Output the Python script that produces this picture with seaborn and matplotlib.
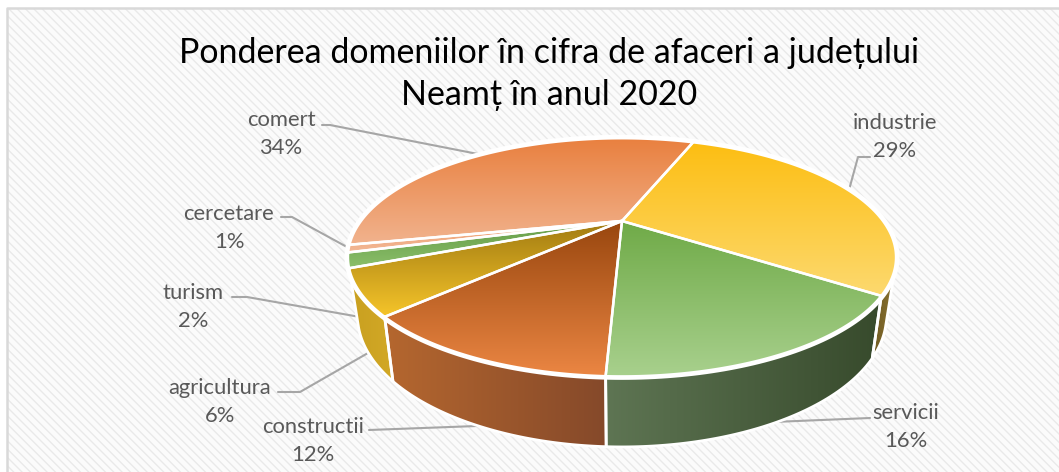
import matplotlib
matplotlib.use('Agg')
import matplotlib.pyplot as plt
from matplotlib.patches import Polygon, Rectangle
import numpy as np
import seaborn as sns

# Date
categories = ['industrie', 'servicii', 'constructii', 'agricultura', 'turism', 'cercetare', 'comert']
shares = [29, 16, 12, 6, 2, 1, 34]

title = 'Ponderea domeniilor în cifra de afaceri a județului\nNeamț în anul 2020'

# Culori (sus -> jos pe fata de sus, stanga -> dreapta pe perete)
top_colors = {
    'industrie': ('#FDBE12', '#FCD96F'),
    'servicii': ('#6FAA47', '#A8D08D'),
    'constructii': ('#98460E', '#EB8643'),
    'agricultura': ('#A17B12', '#F6C52A'),
    'turism': ('#639A46', '#8BBF6A'),
    'cercetare': ('#EE9C6B', '#F2B896'),
    'comert': ('#E9803F', '#F1B38E'),
}
wall_colors = {
    'industrie': ('#6E5A22', '#8A7230'),
    'servicii': ('#5E7553', '#374A2C'),
    'constructii': ('#B5672F', '#85492A'),
    'agricultura': ('#C9A020', '#D2A826'),
}

# Pozitia etichetelor si a liniilor de legatura (pixeli)
label_xy = {
    'industrie': (895, 137), 'servicii': (906, 427), 'constructii': (313, 441),
    'agricultura': (220, 402), 'turism': (193, 307), 'cercetare': (229, 228), 'comert': (281, 134),
}
leaders = {
    'industrie': [(870, 157), (858, 157), (849, 190)],
    'servicii': [(870, 418), (773, 422)],
    'constructii': [(369, 430), (477, 426)],
    'agricultura': [(278, 392), (300, 392), (368, 353)],
    'turism': [(232, 297), (247, 297), (360, 317)],
    'cercetare': [(281, 217), (292, 217), (347, 247)],
    'comert': [(322, 125), (330, 125), (483, 155)],
}

# Camera: perspectiva discului de sus si a celui de jos
CX, CY = 622, 221
A, B, K = 261, 108, 0.305
SX, SY, CY2 = 0.965, 1.10, 276
START = 20.5
WALL_FROM, WALL_TO = 112, 250


def top_pt(deg):
    t = np.radians(deg)
    x, y = np.sin(t), np.cos(t)
    d = 1 + K * y
    return np.column_stack([CX + A * x / d, CY - B * y / d])


def bottom_pt(deg):
    t = np.radians(deg)
    x, y = np.sin(t), np.cos(t)
    d = 1 + K * y
    return np.column_stack([CX + SX * A * x / d, CY2 - SY * B * y / d])


def fill_gradient(ax, pts, c1, c2, vertical, z, edge=2.0):
    # gradient decupat dupa forma felie
    xmin, ymin = pts.min(axis=0)
    xmax, ymax = pts.max(axis=0)
    grad = np.linspace(0, 1, 256)
    grad = grad[:, None] if vertical else grad[None, :]
    cmap = sns.blend_palette([c1, c2], as_cmap=True)
    im = ax.imshow(grad, extent=[xmin, xmax, ymax, ymin], origin='upper', cmap=cmap,
                   aspect='auto', zorder=z, interpolation='bilinear')
    poly = Polygon(pts, closed=True, facecolor='none', edgecolor='white', linewidth=edge, zorder=z + 0.1)
    ax.add_patch(poly)
    im.set_clip_path(poly)


sns.set_theme(style='white')
plt.rcParams['font.family'] = ['Lato', 'DejaVu Sans']
plt.rcParams['hatch.linewidth'] = 1.0

fig = plt.figure(figsize=(10.59, 4.72), dpi=100)
ax = fig.add_axes([0, 0, 1, 1])

# Fundal hasurat
ax.add_patch(Rectangle((7, 8), 1060, 470, facecolor='#FBFBFB', edgecolor='#E9E9E9',
                       hatch='\\\\\\\\', linewidth=0, zorder=0))
ax.plot([7, 7, 1059], [472, 8, 8], color='#D9D9D9', linewidth=1.8, zorder=1)

# Unghiurile feliilor
edges = START + np.cumsum([0] + shares) * 3.6

# Linii de legatura
for name in categories:
    xs, ys = zip(*leaders[name])
    ax.plot(xs, ys, color='#A6A6A6', linewidth=1.5, zorder=1.5, solid_capstyle='round')

# Pereti
for i, name in enumerate(categories):
    a0, a1 = max(edges[i], WALL_FROM), min(edges[i + 1], WALL_TO)
    if a1 <= a0 or name not in wall_colors:
        continue
    arc = np.linspace(a0, a1, 80)
    pts = np.vstack([top_pt(arc), bottom_pt(arc[::-1])])
    fill_gradient(ax, pts, *wall_colors[name], vertical=False, z=2, edge=2.0)

# Halo alb intre fata de sus si pereti
circle = top_pt(np.linspace(0, 360, 361))
ax.add_patch(Polygon(circle, closed=True, facecolor='white', edgecolor='white', linewidth=5, zorder=3))

# Fata de sus
for i, name in enumerate(categories):
    arc = np.linspace(edges[i], edges[i + 1], 120)
    pts = np.vstack([[[CX, CY]], top_pt(arc)])
    fill_gradient(ax, pts, *top_colors[name], vertical=True, z=4, edge=1.8)

# Etichete
for name, val in zip(categories, shares):
    x, y = label_xy[name]
    ax.text(x, y, f'{name}\n{val}%', ha='center', va='center', fontsize=15.8,
            color='#595959', linespacing=1.52, zorder=6)

ax.text(549, 74, title, ha='center', va='center', fontsize=24.5, color='black',
        linespacing=1.39, zorder=6)

ax.set_xlim(0, 1059)
ax.set_ylim(472, 0)
ax.axis('off')

fig.savefig('out.png', dpi=100)
